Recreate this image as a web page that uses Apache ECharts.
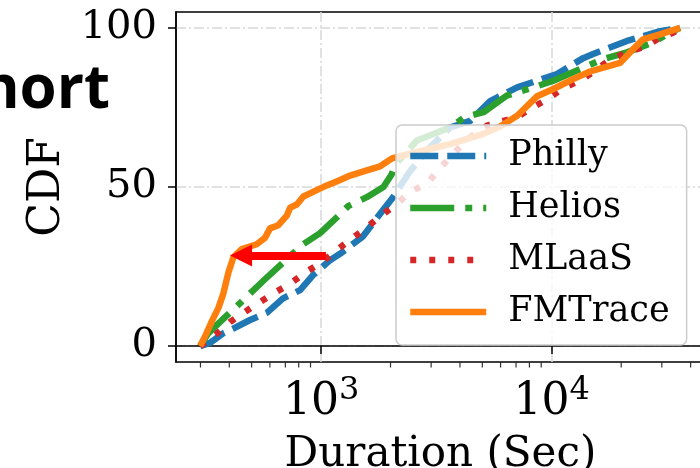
<!DOCTYPE html>
<html>
<head>
<meta charset="utf-8">
<script src="https://cdn.jsdelivr.net/npm/echarts@6/dist/echarts.min.js"></script>
<style>
  html, body { margin: 0; padding: 0; background: #ffffff; }
  #chart { width: 700px; height: 468px; }
</style>
</head>
<body>
<div id="chart"></div>
<script>
// job duration (sec) vs CDF (%)
var phillyDur = [299, 330, 376, 416, 492, 583, 684, 811, 923, 1094, 1208, 1520, 1803, 2052, 2431, 2877, 3625, 4428, 5408, 7080, 8630, 10540, 13680, 15110, 21180, 29460, 35960];
var phillyCdf = [0, 1, 4, 5.5, 8.2, 10.5, 15, 17.6, 22.3, 27, 29, 34.5, 41.6, 46.8, 55, 61.5, 68.7, 70.8, 77, 81.3, 83.4, 85.5, 90.5, 91.8, 95.9, 99, 100];

var heliosDur = [299, 324, 365, 424, 492, 571, 664, 836, 990, 1173, 1310, 1578, 1863, 2024, 2094, 2600, 3625, 4206, 5057, 6380, 8324, 10160, 14220, 16680, 21180, 27480, 32550, 35960];
var heliosCdf = [0, 4, 7.6, 12, 16.5, 21, 25.4, 32, 35.5, 40.5, 44, 46.8, 50, 54, 57, 64.6, 68.7, 72, 73.5, 78.7, 81.3, 83.4, 88, 90.2, 92.3, 95.4, 98.5, 100];

var mlaasDur = [299, 324, 354, 404, 469, 545, 638, 734, 861, 1010, 1161, 1361, 1552, 1820, 2134, 2431, 2877, 3281, 4295, 5246, 7080, 8053, 9545, 11200, 13680, 17900, 21180, 25880, 29460, 33580, 35960];
var mlaasCdf = [0, 2, 4, 7.6, 10.8, 13.9, 17, 19.6, 23.3, 26.4, 30, 33.8, 36.9, 41, 44.7, 48.5, 51, 56, 65, 69.3, 72, 74.5, 77.6, 81, 84, 90, 92.3, 94.4, 97, 98.5, 100];

var fmDur = [299, 314, 337, 359, 377, 396, 417, 453, 526, 571, 601, 653, 710, 734, 785, 838, 957, 1059, 1189, 1336, 1578, 1803, 2030, 2600, 3625, 5057, 5970, 7080, 8630, 10160, 12370, 14650, 19770, 21830, 24880, 29460, 35960];
var fmCdf = [0, 3, 8, 12, 16.5, 23, 28, 30.5, 32, 34, 37, 38, 41, 43.5, 44.5, 47, 49, 50.5, 52, 53.6, 55.2, 56.5, 59, 61, 63.5, 66.7, 69, 72.4, 78.5, 80.8, 83.9, 86.3, 89, 92.3, 96.4, 98, 100];

var xTicks = [1000, 10000];
var xMinorTicks = [300, 400, 500, 600, 700, 800, 900, 2000, 3000, 4000, 5000, 6000, 7000, 8000, 9000, 20000, 30000, 40000];
var yTicks = [0, 50, 100];
var seriesNames = ['Philly', 'Helios', 'MLaaS', 'FMTrace'];
// annotation arrow (duration, cdf)
var arrowFrom = [1050, 28.5];
var arrowTo = [450, 28.5];

var serif = 'DejaVu Serif';
var yMin = -5;

function pairs (xs, ys) {
  return xs.map(function (x, i) { return [x, ys[i]] })
}

function curve (name, xs, ys, color, dash) {
  return {
    name: name,
    type: 'line',
    data: pairs(xs, ys),
    showSymbol: false,
    symbol: 'none',
    animation: false,
    lineStyle: { color: color, width: 6.5, type: dash, cap: 'butt', join: 'round' },
    itemStyle: { color: color }
  }
}

var chart = echarts.init(document.getElementById('chart'));
chart.setOption({
  animation: false,
  grid: {
    left: 176, top: 12, width: 537, height: 350,
    outerBoundsMode: 'none',
    containLabel: false,
    show: true, borderColor: '#000', borderWidth: 1.5
  },
  xAxis: {
    type: 'log',
    logBase: 10,
    min: 235,
    max: 50000,
    name: 'Duration (Sec)',
    nameLocation: 'middle',
    nameGap: 72,
    nameTextStyle: { fontFamily: serif, fontSize: 42, color: '#000', padding: [0, 8, 0, 0] },
    axisLine: { lineStyle: { color: '#000', width: 1.5 } },
    axisTick: { customValues: xTicks, length: 8, lineStyle: { color: '#000', width: 1.5 } },
    minorTick: { show: false },
    axisLabel: {
      customValues: xTicks,
      margin: 13,
      formatter: function (v) { return '{b|10}{e|' + Math.round(Math.log10(v)) + '}' },
      rich: {
        b: { fontFamily: serif, fontSize: 44, color: '#000', lineHeight: 50, verticalAlign: 'bottom' },
        e: { fontFamily: serif, fontSize: 32, color: '#000', verticalAlign: 'top' }
      }
    },
    splitLine: { show: true, lineStyle: { color: '#d8d8d8', width: 1.5, type: [10, 3, 2, 3] } }
  },
  yAxis: {
    type: 'value',
    min: yMin,
    max: 105,
    splitNumber: 2,
    name: 'CDF',
    nameLocation: 'middle',
    nameGap: 106,
    nameTextStyle: { fontFamily: serif, fontSize: 44, color: '#000' },
    axisLine: { show: true, lineStyle: { color: '#000', width: 1.5 } },
    axisTick: { show: true, customValues: yTicks, length: 8, lineStyle: { color: '#000', width: 1.5 } },
    axisLabel: { customValues: yTicks, margin: 19, fontFamily: serif, fontSize: 40, color: '#000' },
    splitLine: { show: true, lineStyle: { color: '#d8d8d8', width: 1.5, type: [10, 3, 2, 3] } }
  },
  legend: {
    data: seriesNames,
    orient: 'vertical',
    left: 396,
    top: 125,
    itemWidth: 76,
    itemHeight: 40,
    itemGap: 12,
    padding: [11, 17, 13, 11],
    backgroundColor: 'rgba(255,255,255,0.8)',
    borderColor: '#cccccc',
    borderWidth: 1.5,
    borderRadius: 6,
    itemStyle: { opacity: 0 },
    lineStyle: { width: 6.5 },
    textStyle: { fontFamily: serif, fontSize: 35, color: '#000', lineHeight: 40, padding: [0, 0, 0, 17] }
  },
  graphic: [{
    type: 'text',
    z: 10,
    style: {
      text: 'Short',
      x: 110,
      y: 91,
      align: 'right',
      verticalAlign: 'middle',
      fontFamily: 'Open Sans',
      fontWeight: 'bold',
      fontSize: 60,
      fill: '#000'
    }
  }],
  series: [
    curve('Philly', phillyDur, phillyCdf, '#1f77b4', [28, 9]),
    curve('Helios', heliosDur, heliosCdf, '#2ca02c', [44, 11, 7, 11]),
    curve('MLaaS', mlaasDur, mlaasCdf, '#d62728', [6, 13]),
    curve('FMTrace', fmDur, fmCdf, '#ff7f0e', 'solid'),
    {
      type: 'lines',
      coordinateSystem: 'cartesian2d',
      z: 5,
      silent: true,
      animation: false,
      symbol: ['none', 'triangle'],
      symbolSize: 22,
      lineStyle: { color: '#ff0000', width: 8, opacity: 1 },
      data: [{ coords: [arrowFrom, arrowTo] }]
    },
    {
      // minor ticks of the log axis, hung below the bottom spine
      type: 'scatter',
      silent: true,
      clip: false,
      animation: false,
      symbol: 'rect',
      symbolSize: [1.2, 5],
      symbolOffset: [0, 3],
      itemStyle: { color: '#000' },
      data: xMinorTicks.map(function (v) { return [v, yMin] })
    }
  ]
})
</script>
</body>
</html>
